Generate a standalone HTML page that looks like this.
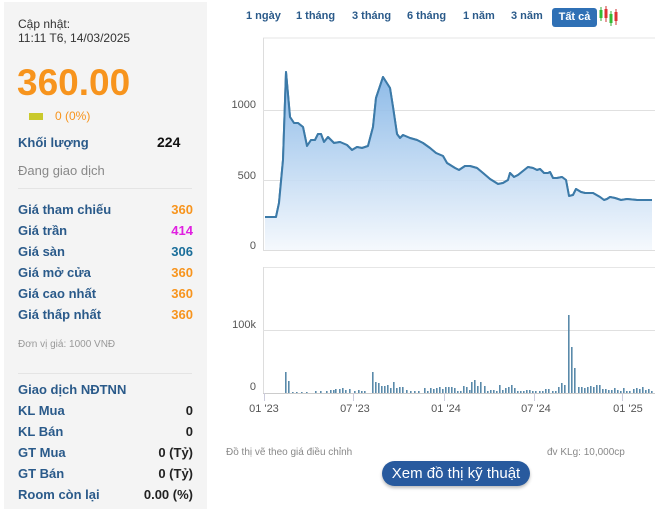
<!DOCTYPE html>
<html><head><meta charset="utf-8"><style>
body{margin:0;width:659px;height:509px;background:#fff;font-family:"Liberation Sans",Arial,sans-serif;position:relative;overflow:hidden}
.lp{position:absolute;left:4px;top:2px;width:203px;height:507px;background:#f4f4f4}
.a{position:absolute;white-space:nowrap}
.lb{color:#2a5a8a;font-weight:bold;font-size:13px;left:18px}
.v{font-weight:bold;font-size:13px;right:466px;text-align:right}
.o{color:#f7941d}
.hr{position:absolute;left:18px;width:174px;height:1px;background:#e4e4e4}
.tab{position:absolute;top:10px;font-size:11px;font-weight:bold;color:#2a5a8a}
</style></head><body>
<div class="lp"></div>
<div class="a" style="left:18px;top:17px;font-size:12px;color:#333;line-height:14px">Cập nhật:<br>11:11 T6, 14/03/2025</div>
<div class="a" style="left:17px;top:62px;font-size:37px;font-weight:bold;color:#f7941d">360.00</div>
<div class="a" style="left:29px;top:113px;width:14px;height:7px;background:#c9c92c"></div>
<div class="a" style="left:55px;top:109px;font-size:12px;color:#f7941d">0 (0%)</div>
<div class="a lb" style="top:135px">Khối lượng</div>
<div class="a" style="left:157px;top:134px;font-size:14px;font-weight:bold;color:#111">224</div>
<div class="a" style="left:18px;top:163px;font-size:13px;color:#888">Đang giao dịch</div>
<div class="hr" style="top:188px"></div>
<div class="a lb" style="top:202px">Giá tham chiếu</div><div class="a v o" style="top:202px">360</div>
<div class="a lb" style="top:223px">Giá trần</div><div class="a v" style="top:223px;color:#e020e0">414</div>
<div class="a lb" style="top:244px">Giá sàn</div><div class="a v" style="top:244px;color:#1a6e9a">306</div>
<div class="a lb" style="top:265px">Giá mở cửa</div><div class="a v o" style="top:265px">360</div>
<div class="a lb" style="top:286px">Giá cao nhất</div><div class="a v o" style="top:286px">360</div>
<div class="a lb" style="top:307px">Giá thấp nhất</div><div class="a v o" style="top:307px">360</div>
<div class="a" style="left:18px;top:339px;font-size:10px;color:#999">Đơn vị giá: 1000 VNĐ</div>
<div class="hr" style="top:373px"></div>
<div class="a lb" style="top:382px">Giao dịch NĐTNN</div>
<div class="a lb" style="top:403px">KL Mua</div><div class="a v" style="top:403px;color:#222">0</div>
<div class="a lb" style="top:424px">KL Bán</div><div class="a v" style="top:424px;color:#222">0</div>
<div class="a lb" style="top:445px">GT Mua</div><div class="a v" style="top:445px;color:#222">0 (Tỷ)</div>
<div class="a lb" style="top:466px">GT Bán</div><div class="a v" style="top:466px;color:#222">0 (Tỷ)</div>
<div class="a lb" style="top:487px">Room còn lại</div><div class="a v" style="top:487px;color:#222">0.00 (%)</div>

<div class="tab" style="left:246px">1 ngày</div>
<div class="tab" style="left:296px">1 tháng</div>
<div class="tab" style="left:352px">3 tháng</div>
<div class="tab" style="left:407px">6 tháng</div>
<div class="tab" style="left:463px">1 năm</div>
<div class="tab" style="left:511px">3 năm</div>
<div class="a" style="left:552px;top:8px;width:45px;height:19px;background:#2f70b5;border-radius:3px;color:#fff;font-size:11px;font-weight:bold;text-align:center;line-height:19px">Tất cả</div>
<svg class="a" style="left:598px;top:5px" width="22" height="22">
<line x1="3" y1="2" x2="3" y2="16" stroke="#3a3"/><rect x="1.5" y="5" width="3" height="8" fill="#3b3"/>
<line x1="8" y1="1" x2="8" y2="17" stroke="#c33"/><rect x="6.5" y="4" width="3" height="9" fill="#d33"/>
<line x1="13" y1="6" x2="13" y2="21" stroke="#3a3"/><rect x="11.5" y="9" width="3" height="9" fill="#3b3"/>
<line x1="18" y1="4" x2="18" y2="20" stroke="#c33"/><rect x="16.5" y="7" width="3" height="9" fill="#d33"/>
</svg>

<svg class="a" style="left:0;top:0" width="659" height="509" font-family="Liberation Sans,Arial,sans-serif">
<defs><linearGradient id="g" x1="0" y1="0" x2="0" y2="1"><stop offset="0" stop-color="#7fb2e5"/><stop offset="1" stop-color="#f4f8fd"/></linearGradient></defs>
<line x1="263" y1="38" x2="655" y2="38" stroke="#e6e6e6"/>
<line x1="263.5" y1="38" x2="263.5" y2="251" stroke="#ddd"/>
<line x1="263" y1="110.5" x2="655" y2="110.5" stroke="#e0e0e0"/>
<line x1="263" y1="180.5" x2="655" y2="180.5" stroke="#e0e0e0"/>
<line x1="263" y1="250.5" x2="655" y2="250.5" stroke="#ddd"/>
<text x="256" y="108" font-size="11" fill="#555" text-anchor="end">1000</text>
<text x="256" y="179" font-size="11" fill="#555" text-anchor="end">500</text>
<text x="256" y="249" font-size="11" fill="#555" text-anchor="end">0</text>
<path id="p" d="M265,217 L276,217 279,203 283,160 286,72 290,117 294,123 298,123 303,127 307,146 311,140 315,140 318,134 321,134 324,142 328,137 334,143 340,142 347,145 352,150 357,147 362,148 368,146 373,127 376,98 383,77 390,88 393,107 397,134 400,138 403,135 410,138 417,140 423,143 430,148 436,153 443,156 447,163 455,168 459,170 465,166 470,166 477,168 483,173 490,179 498,184 503,183 508,180 510,173 514,177 518,175 528,167 533,168 537,170 540,169 544,173 548,173 550,172 553,178 557,178 562,177 566,180 569,196 573,195 576,189 581,192 585,193 593,193 600,197 604,200 607,199 610,197 615,198 621,200 627,199 637,200 652,200" fill="none" stroke="#3c7aa8" stroke-width="2" stroke-linejoin="round"/>
<path d="M265,217 L276,217 279,203 283,160 286,72 290,117 294,123 298,123 303,127 307,146 311,140 315,140 318,134 321,134 324,142 328,137 334,143 340,142 347,145 352,150 357,147 362,148 368,146 373,127 376,98 383,77 390,88 393,107 397,134 400,138 403,135 410,138 417,140 423,143 430,148 436,153 443,156 447,163 455,168 459,170 465,166 470,166 477,168 483,173 490,179 498,184 503,183 508,180 510,173 514,177 518,175 528,167 533,168 537,170 540,169 544,173 548,173 550,172 553,178 557,178 562,177 566,180 569,196 573,195 576,189 581,192 585,193 593,193 600,197 604,200 607,199 610,197 615,198 621,200 627,199 637,200 652,200 L652,250 265,250Z" fill="url(#g)" opacity="0.9"/>
<use href="#p"/>

<line x1="263" y1="267.5" x2="655" y2="267.5" stroke="#e6e6e6"/>
<line x1="263.5" y1="267" x2="263.5" y2="393" stroke="#ddd"/>
<line x1="263" y1="330.5" x2="655" y2="330.5" stroke="#e0e0e0"/>
<line x1="263" y1="393.5" x2="655" y2="393.5" stroke="#ccc"/>
<text x="256" y="328" font-size="11" fill="#555" text-anchor="end">100k</text>
<text x="256" y="390" font-size="11" fill="#555" text-anchor="end">0</text>
<g stroke="#ccd" stroke-width="1"><line x1="264.5" y1="393" x2="264.5" y2="401"/><line x1="353.5" y1="393" x2="353.5" y2="401"/><line x1="444.5" y1="393" x2="444.5" y2="401"/><line x1="534.5" y1="393" x2="534.5" y2="401"/><line x1="622.5" y1="393" x2="622.5" y2="401"/></g>
<g font-size="11" fill="#555" text-anchor="middle"><text x="264" y="412">01 '23</text><text x="355" y="412">07 '23</text><text x="446" y="412">01 '24</text><text x="536" y="412">07 '24</text><text x="628" y="412">01 '25</text></g>
<g fill="#5a8aaa" id="bars"></g>
<text x="226" y="455" font-size="10" fill="#888">Đồ thị vẽ theo giá điều chỉnh</text>
<text x="547" y="455" font-size="10" fill="#888">đv KLg: 10,000cp</text>
</svg>
<div class="a" style="left:382px;top:461px;width:148px;height:25px;background:#285a9e;border-radius:13px;color:#fff;font-size:15px;text-align:center;line-height:25px;box-shadow:0 2px 3px #bbb">Xem đồ thị kỹ thuật</div>
<script>
var b=[[286,372],[289,381],[293,392],[297,392],[302,392],[307,392],[316,391],[321,391],[327,391],[331,390],[334,390],[336,389],[340,389],[343,388],[346,390],[350,389],[355,391],[359,390],[362,391],[365,391],[373,372],[376,382],[379,383],[382,386],[385,386],[388,385],[391,388],[394,382],[397,388],[400,387],[403,387],[407,390],[411,391],[415,391],[419,391],[425,388],[428,391],[431,388],[434,389],[437,388],[440,387],[443,389],[446,387],[449,387],[452,387],[455,388],[458,391],[461,391],[464,386],[467,387],[470,390],[472,382],[475,380],[478,386],[481,382],[485,386],[488,391],[491,390],[494,390],[497,391],[500,385],[503,390],[506,388],[509,387],[512,385],[515,388],[518,391],[521,391],[524,391],[527,390],[530,390],[533,391],[536,391],[540,391],[543,391],[546,389],[549,389],[553,391],[556,391],[559,387],[562,383],[565,385],[569,315],[572,347],[575,368],[579,387],[582,387],[585,388],[588,387],[591,386],[594,387],[597,385],[600,385],[603,389],[606,389],[609,390],[612,390],[615,388],[618,390],[621,391],[624,388],[627,391],[630,391],[634,389],[637,388],[640,389],[643,387],[646,390],[649,389],[652,391]];
var g=document.getElementById('bars'),s='';
b.forEach(function(p){s+='<rect x="'+(p[0]-1)+'" y="'+p[1]+'" width="1.6" height="'+(393-p[1])+'"/>';});
g.innerHTML=s;
</script>
</body></html>
